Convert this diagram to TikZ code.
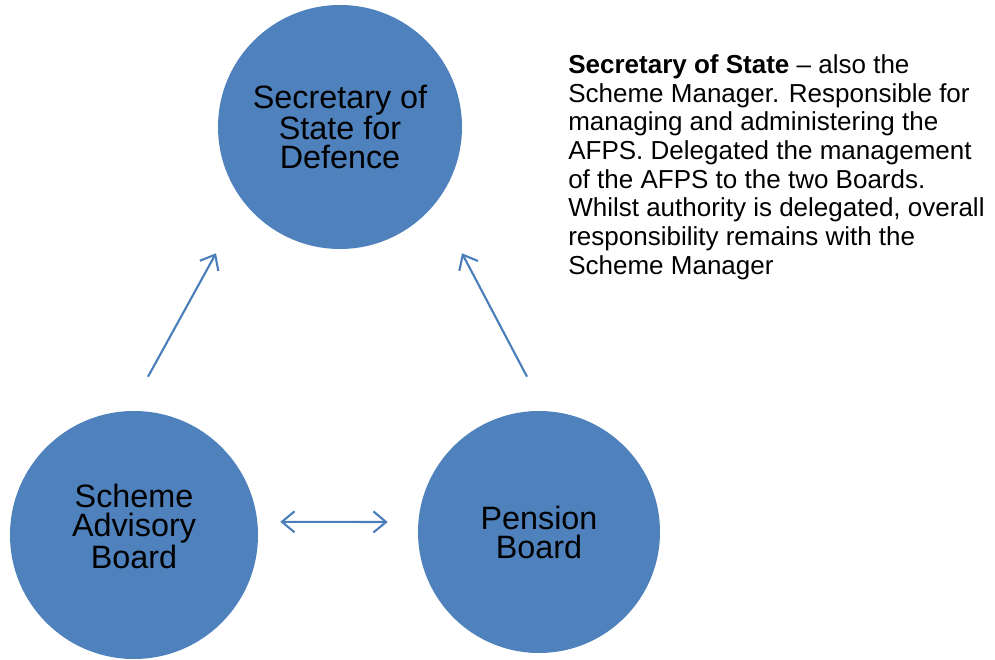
\documentclass[tikz,border=0pt]{standalone}
\usepackage{fontspec}
\setmainfont{Liberation Sans}
\usepackage{tikz}
\usetikzlibrary{arrows.meta,positioning}

\definecolor{boardblue}{HTML}{4F81BD}
\definecolor{linkblue}{HTML}{4A7EBB}

\begin{document}
\begin{tikzpicture}[>={Straight Barb[length=9pt,width=15pt]},
    board/.style={circle,fill=boardblue,minimum size=6.1cm,inner sep=0pt,
      align=center,font=\fontsize{23}{20.6}\selectfont},
    boardtext/.style={align=center,inner sep=0pt,font=\fontsize{23}{21.2}\selectfont},
    link/.style={draw=linkblue,line width=1.5pt}]
      \useasboundingbox (0,0) rectangle (24.875,16.475);

      \node[board] (sos) at (8.5,13.3) {Secretary of\\State for\\Defence};
      \node[board,minimum size=6.2cm] (sab) at (3.35,3.1) {};
      \node[boardtext] (sabtext) at ([yshift=0.22cm]sab.center) {Scheme\\Advisory\\Board};
      \node[board,minimum size=6.05cm] (pb) at (13.475,3.175) {Pension\\Board};

      \node[anchor=north west,inner sep=0pt,align=left,
        font=\fontsize{18.5}{20.4}\selectfont] (note) at (14.2,15.12)
        {\textbf{Secretary of State} -- also the\\
         Scheme Manager. Responsible for\\
         managing and administering the\\
         AFPS. Delegated the management\\
         of the AFPS to the two Boards.\\
         Whilst authority is delegated, overall\\
         responsibility remains with the\\
         Scheme Manager};

      \draw[link,->] ([shift={(0.35,0.85)}]sab.north) -- ([shift={(-3.1,-0.1)}]sos.south);
      \draw[link,->] ([shift={(-0.3,0.85)}]pb.north) -- ([shift={(3.05,-0.1)}]sos.south);
      \draw[link,<->] ([shift={(0.55,0.33)}]sab.east) -- ([shift={(-0.75,0.25)}]pb.west);
    \end{tikzpicture}
\end{document}
